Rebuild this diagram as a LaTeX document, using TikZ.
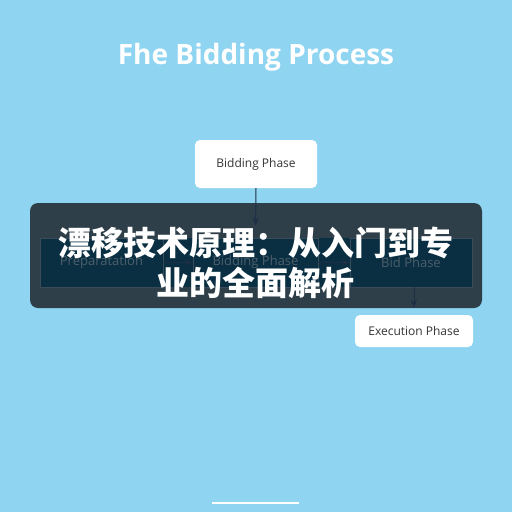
\documentclass[tikz,border=0pt]{standalone}
\usepackage{fontspec}
\setmainfont{Open Sans}
\newfontfamily\cjk{Noto Sans CJK SC}
\usetikzlibrary{positioning,arrows.meta}

\definecolor{skybg}{HTML}{8FD4F0}
\definecolor{bannerc}{HTML}{2F3F49}
\definecolor{bandfill}{HTML}{0A2F42}
\definecolor{bandline}{HTML}{3A4C58}
\definecolor{bandtext}{HTML}{4C5E6A}
\definecolor{arrowc}{HTML}{1E2E44}

\tikzset{
    phase/.style={fill=white, rounded corners=5pt, text=black!80,
        font=\fontsize{12}{14}\selectfont, inner sep=0pt},
    bandbox/.style={draw=bandline, line width=0.8pt, minimum height=49pt,
        inner sep=0pt, text=bandtext, font=\fontsize{13}{15}\selectfont},
    flow/.style={draw=arrowc, line width=1pt, -{Stealth[length=8pt,width=6pt]}},
}

\begin{document}
\begin{tikzpicture}[x=1pt,y=-1pt]
    \useasboundingbox[fill=skybg] (0,0) rectangle (512,512);

    \node[text=white, font=\fontsize{28}{32}\selectfont\bfseries] (title) at (256,57) {Fhe Bidding Process};

    \node[phase, minimum width=122pt, minimum height=48pt] (bidtop) at (256,164) {Bidding Phase};

    % dark banner
    \fill[bannerc, rounded corners=8pt] (30,203) rectangle (482,308);
    \fill[bandfill] (40,238) rectangle (472,287);

    \node[bandbox, minimum width=123pt] (prep) at (101.5,262.5) {Preparatation};
    \node[bandbox, minimum width=125pt] (bidmid) at (255.5,262.5) {Bidding Phase};
    \node[bandbox, minimum width=122pt] (bidend) at (411,262.5) {Bid Phase};

    \node[phase, minimum width=118pt, minimum height=32pt] (exec) at (414,331) {Execution Phase};

    \draw[flow, shorten >=12pt] (bidtop.south) -- (bidmid.north);
    \draw[flow] (prep.east) -- (bidmid.west);
    \draw[flow] (bidmid.east) -- (bidend.west);
    \draw[flow, shorten >=7pt] (bidend.south -| exec.north) -- (exec.north);

    \node[text=white, align=center, font=\fontsize{33}{40}\selectfont\cjk\bfseries] (caption) at (256,263)
        {漂移技术原理：从入门到专\\业的全面解析};

    \coordinate (lineL) at (212,503);
    \coordinate (lineR) at (299,503);
    \draw[white, line width=2pt] (lineL) -- (lineR);
\end{tikzpicture}
\end{document}
